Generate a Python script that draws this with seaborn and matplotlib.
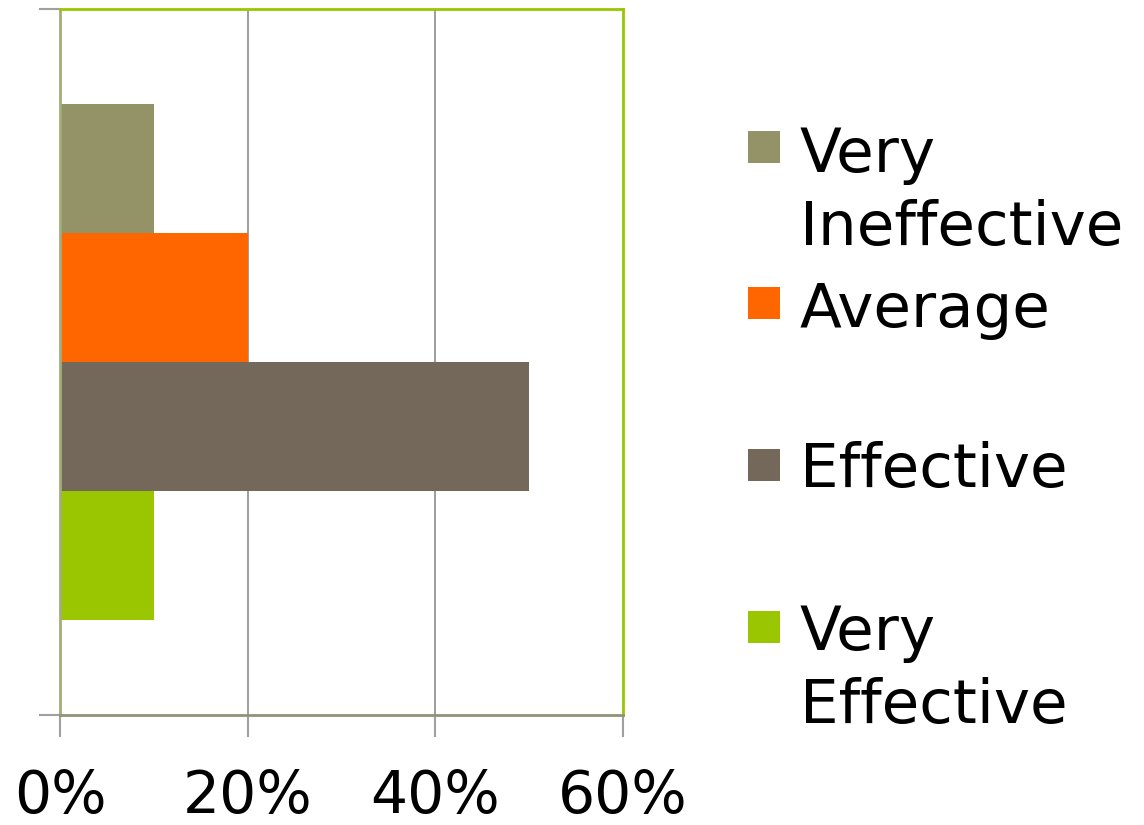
import matplotlib
matplotlib.use("Agg")
import matplotlib.pyplot as plt
from matplotlib.patches import Rectangle
from matplotlib.ticker import FuncFormatter
import pandas as pd
import seaborn as sns

# Datos del gráfico
categoria = [""]
series = ["Very Ineffective", "Average", "Effective", "Very Effective"]
valores = [10, 20, 50, 10]
etiquetas_legenda = ["Very\nIneffective", "Average", "Effective", "Very\nEffective"]
colores = ["#939367", "#FF6600", "#736859", "#99C600"]
xticks = [0, 20, 40, 60]

df = pd.DataFrame({
    "categoria": categoria * len(series),
    "serie": series,
    "valor": valores,
})

sns.set_theme(style="white")
plt.rcParams["font.family"] = ["DejaVu Sans"]

fig = plt.figure(figsize=(11.44, 8.25), dpi=100)
ax = fig.add_axes([60 / 1144, 110 / 825, 563 / 1144, 706 / 825])

sns.barplot(data=df, x="valor", y="categoria", hue="serie", hue_order=series,
            palette=colores, orient="h", width=0.73, saturation=1,
            legend=False, ax=ax, edgecolor="none", linewidth=0)

ax.set_xlim(0, 60)
ax.set_ylim(0.5, -0.5)
ax.set_xticks(xticks)
ax.xaxis.set_major_formatter(FuncFormatter(lambda v, p: f"{v:.0f}%"))
ax.set_yticks([-0.5, 0.5])
ax.set_yticklabels(["", ""])
ax.set_xlabel("")
ax.set_ylabel("")

# Rejilla vertical
for v in [20, 40]:
    ax.axvline(v, color="#8c8c8c", linewidth=1.2, zorder=0)

ax.tick_params(axis="x", direction="out", length=16, width=1.5, color="#a0a0a0",
               labelsize=42, labelcolor="black", pad=22, bottom=True)
ax.tick_params(axis="y", direction="out", length=15, width=1.5, color="#a0a0a0", left=True)

ax.spines["top"].set_color("#99C600")
ax.spines["right"].set_color("#99C600")
ax.spines["top"].set_linewidth(2)
ax.spines["right"].set_linewidth(2)
ax.spines["left"].set_color("#a3ad7a")
ax.spines["left"].set_linewidth(2)
ax.spines["bottom"].set_color("#8f9478")
ax.spines["bottom"].set_linewidth(2)

# Leyenda manual
cuadros_y = [131, 287, 449, 611]
lineas_base = [172, 327, 487, 650]
for color, etiqueta, yc, yb in zip(colores, etiquetas_legenda, cuadros_y, lineas_base):
    fig.patches.append(Rectangle((748 / 1144, 1 - (yc + 32) / 825), 32 / 1144, 32 / 825,
                                 transform=fig.transFigure, facecolor=color,
                                 edgecolor="none"))
    for i, linea in enumerate(etiqueta.split("\n")):
        fig.text(800 / 1144, 1 - (yb + i * 73) / 825, linea, fontsize=44,
                 ha="left", va="baseline", color="black")

fig.savefig("out.png", dpi=100)
